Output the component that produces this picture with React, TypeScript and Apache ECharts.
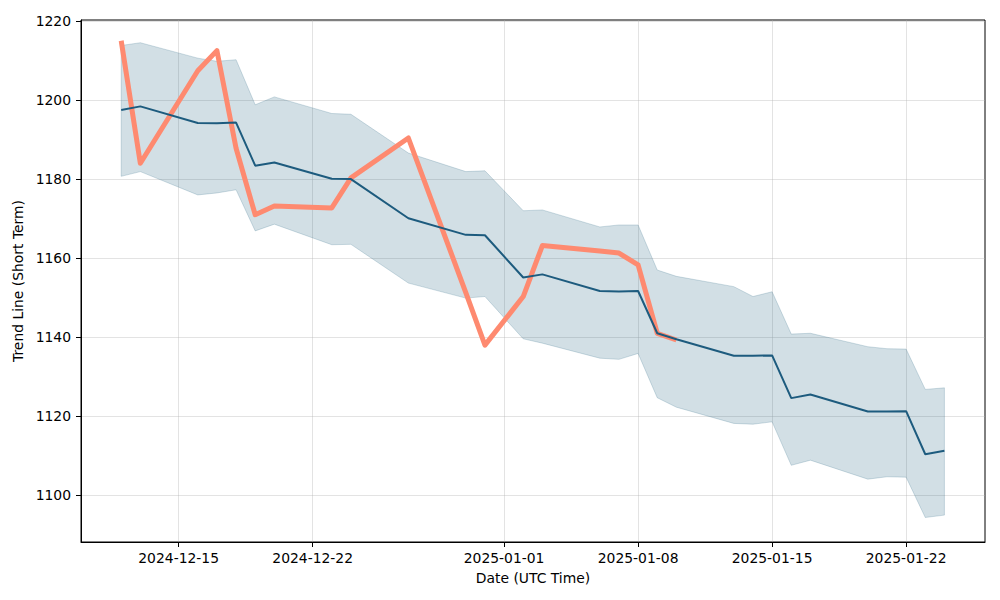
import React, { useEffect, useRef } from "react";
import * as echarts from "echarts";

const dates = [
  "2024-12-12", "2024-12-13", "2024-12-16", "2024-12-17", "2024-12-18", "2024-12-19", "2024-12-20",
  "2024-12-23", "2024-12-24", "2024-12-27", "2024-12-30", "2024-12-31", "2025-01-02", "2025-01-03",
  "2025-01-06", "2025-01-07", "2025-01-08", "2025-01-09", "2025-01-10", "2025-01-13", "2025-01-14",
  "2025-01-15", "2025-01-16", "2025-01-17", "2025-01-20", "2025-01-21", "2025-01-22", "2025-01-23",
  "2025-01-24",
];

const trendLine = [
  1197.5, 1198.4, 1194.2, 1194.1, 1194.3, 1183.4, 1184.2, 1180.1, 1180.0, 1170.1, 1165.9, 1165.8,
  1155.1, 1155.9, 1151.7, 1151.6, 1151.7, 1141.0, 1139.5, 1135.3, 1135.3, 1135.4, 1124.6, 1125.5,
  1121.2, 1121.2, 1121.3, 1110.4, 1111.3,
];

const upperBand = [
  1213.8, 1214.5, 1210.6, 1209.8, 1210.2, 1198.8, 1200.8, 1196.6, 1196.4, 1186.6, 1181.9, 1182.1,
  1172.0, 1172.2, 1167.9, 1168.4, 1168.4, 1157.0, 1155.4, 1152.8, 1150.3, 1151.5, 1140.8, 1141.0,
  1137.6, 1137.1, 1137.0, 1126.8, 1127.2,
];

const lowerBand = [
  1180.7, 1181.9, 1176.0, 1176.5, 1177.3, 1166.9, 1168.6, 1163.4, 1163.5, 1153.7, 1149.9, 1150.3,
  1139.6, 1138.5, 1134.7, 1134.4, 1135.9, 1124.7, 1122.3, 1118.2, 1118.0, 1118.6, 1107.6, 1108.9,
  1104.1, 1104.7, 1104.6, 1094.4, 1095.0,
];

// observed values (available up to 2025-01-10)
const actualValues = [
  1215.0, 1184.0, 1207.4, 1212.5, 1187.8, 1171.0, 1173.2, 1172.7, 1180.3, 1190.4, 1151.3, 1138.0,
  1150.3, 1163.2, 1161.8, 1161.3, 1158.3, 1141.0, 1139.3,
];

const xTickDates = ["2024-12-15", "2024-12-22", "2025-01-01", "2025-01-08", "2025-01-15", "2025-01-22"];
const yTicks = [1100, 1120, 1140, 1160, 1180, 1200, 1220];

const DAY = 86400000;
const toUTC = (s: string) => {
  const [y, m, d] = s.split("-").map(Number);
  return Date.UTC(y, m - 1, d);
};
const fmt = (v: number) => {
  const d = new Date(v);
  return `${d.getUTCFullYear()}-${String(d.getUTCMonth() + 1).padStart(2, "0")}-${String(
    d.getUTCDate()
  ).padStart(2, "0")}`;
};

const FONT = "DejaVu Sans";
const BAND = "rgba(31,95,127,0.2)";
const TREND = "#1d5b7e";
const ACTUAL = "#fe8a70";
const GRIDC = "rgba(176,176,176,0.35)";

export default function App() {
  const ref = useRef<HTMLDivElement>(null);

  useEffect(() => {
    document.body.style.margin = "0";
    if (!ref.current) return;
    const chart = echarts.init(ref.current, null, { renderer: "svg" });

    const times = dates.map(toUTC);
    const bandData = times.map((t, i) => [t, lowerBand[i], upperBand[i]]);
    const trendData = times.map((t, i) => [t, trendLine[i]]);
    const actualData = actualValues.map((v, i) => [times[i], v]);
    const xTicks = xTickDates.map(toUTC);

    const xMin = times[0] - 2.1 * DAY;
    const xMax = times[times.length - 1] + 2.12 * DAY;

    chart.setOption({
      animation: false,
      backgroundColor: "#ffffff",
      grid: {
        left: 81,
        right: 15,
        top: 20,
        bottom: 58,
        show: true,
        borderColor: "#000",
        borderWidth: 1,
        containLabel: false,
      },
      xAxis: {
        type: "value",
        min: xMin,
        max: xMax,
        name: "Date (UTC Time)",
        nameLocation: "middle",
        nameGap: 29,
        nameTextStyle: { fontFamily: FONT, fontSize: 13.9, color: "#000" },
        axisLine: { show: true, onZero: false, lineStyle: { color: "#000", width: 1 } },
        axisTick: { show: true, length: 5, customValues: xTicks, lineStyle: { color: "#000" } },
        axisLabel: {
          customValues: xTicks,
          formatter: (v: number) => fmt(v),
          fontFamily: FONT,
          fontSize: 13.9,
          color: "#000",
          margin: 9,
        },
        splitLine: { show: true, lineStyle: { color: GRIDC, width: 1 } },
      },
      yAxis: {
        type: "value",
        min: 1088.2,
        max: 1220.25,
        name: "Trend Line (Short Term)",
        nameLocation: "middle",
        nameGap: 50,
        nameTextStyle: { fontFamily: FONT, fontSize: 13.9, color: "#000" },
        axisLine: { show: true, onZero: false, lineStyle: { color: "#000", width: 1 } },
        axisTick: { show: true, length: 5, customValues: yTicks, lineStyle: { color: "#000" } },
        axisLabel: {
          customValues: yTicks,
          formatter: (v: number) => String(v),
          fontFamily: FONT,
          fontSize: 13.9,
          color: "#000",
          margin: 10,
        },
        splitLine: { show: true, lineStyle: { color: GRIDC, width: 1 } },
      },
      series: [
        {
          type: "custom",
          name: "band",
          data: bandData,
          encode: { x: 0, y: [1, 2] },
          silent: true,
          z: 1,
          renderItem: (params: any, api: any) => {
            if (params.dataIndex !== 0) return null;
            const top = bandData.map((r) => api.coord([r[0], r[2]]));
            const bottom = bandData.map((r) => api.coord([r[0], r[1]])).reverse();
            return {
              type: "polygon",
              shape: { points: top.concat(bottom) },
              style: { fill: BAND, stroke: BAND, lineWidth: 1 },
            };
          },
        },
        {
          type: "line",
          name: "actual",
          data: actualData,
          symbol: "none",
          z: 2,
          lineStyle: { color: ACTUAL, width: 5, join: "round", cap: "butt" },
        },
        {
          type: "line",
          name: "trend",
          data: trendData,
          symbol: "none",
          z: 3,
          lineStyle: { color: TREND, width: 2 },
        },
      ],
    });

    return () => chart.dispose();
  }, []);

  return (
    <div
      ref={ref}
      style={{ position: "absolute", left: 0, top: 0, width: 1000, height: 600, background: "#fff" }}
    />
  );
}
